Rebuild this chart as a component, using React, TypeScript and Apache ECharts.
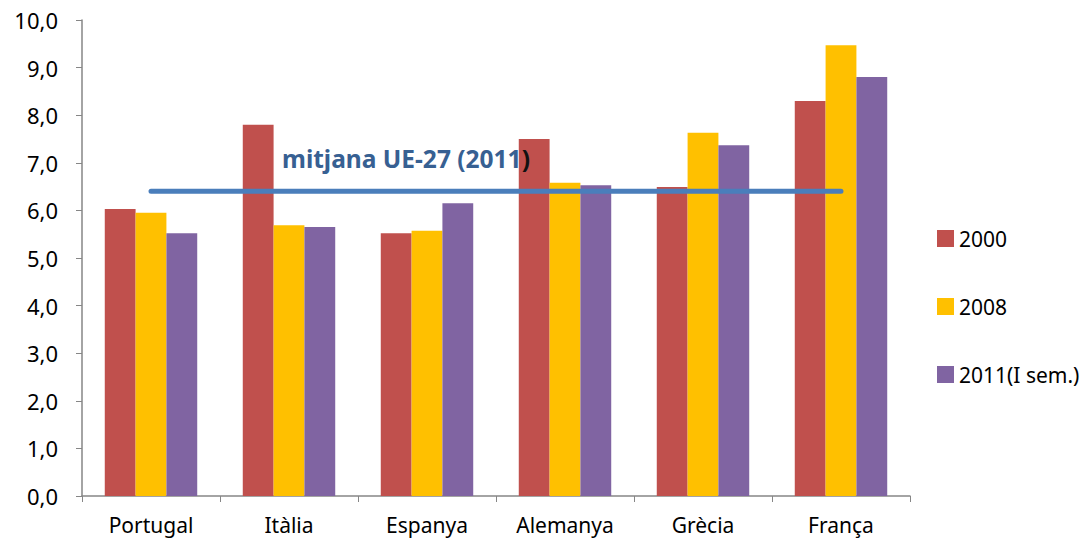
import React, { useEffect, useRef } from "react";
import * as echarts from "echarts";

const categories = ["Portugal", "Itàlia", "Espanya", "Alemanya", "Grècia", "França"];
const series2000 = [6.03, 7.8, 5.52, 7.5, 6.49, 8.3];
const series2008 = [5.95, 5.69, 5.57, 6.58, 7.63, 9.47];
const series2011 = [5.52, 5.65, 6.15, 6.53, 7.37, 8.8];
const euAverage = [6.4, 6.4, 6.4, 6.4, 6.4, 6.4];
const seriesNames = ["2000", "2008", "2011(I sem.)"];

const FONT = "'Noto Sans', 'Open Sans', sans-serif";

export default function App() {
  const ref = useRef<HTMLDivElement>(null);
  useEffect(() => {
    if (!ref.current) return;
    const chart = echarts.init(ref.current, undefined, { renderer: "svg" });
    chart.setOption({
      animation: false,
      backgroundColor: "#ffffff",
      textStyle: { fontFamily: FONT },
      grid: { left: 82, right: 179, top: 20, bottom: 48, containLabel: false },
      legend: {
        orient: "vertical",
        left: 932,
        top: 223,
        itemWidth: 17,
        itemHeight: 17,
        itemGap: 47,
        icon: "rect",
        data: seriesNames,
        textStyle: { fontSize: 21, color: "#000", fontFamily: FONT },
      },
      xAxis: {
        type: "category",
        data: categories,
        axisLine: { lineStyle: { color: "#868686", width: 1.5 } },
        axisTick: { show: true, length: 6, lineStyle: { color: "#868686" } },
        axisLabel: { fontSize: 21, color: "#000", margin: 18, fontFamily: FONT },
      },
      yAxis: {
        type: "value",
        min: 0,
        max: 10,
        interval: 1,
        splitLine: { show: false },
        axisLine: { show: true, lineStyle: { color: "#868686", width: 1.5 } },
        axisTick: { show: true, length: 6, lineStyle: { color: "#868686" } },
        axisLabel: {
          fontSize: 22,
          color: "#000",
          margin: 24,
          fontFamily: FONT,
          formatter: (v: number) => v.toFixed(1).replace(".", ","),
        },
      },
      series: [
        {
          name: seriesNames[0],
          type: "bar",
          data: series2000,
          barGap: "0%",
          barCategoryGap: "33%",
          itemStyle: { color: "#C0504D" },
        },
        {
          name: seriesNames[1],
          type: "bar",
          data: series2008,
          barGap: "0%",
          barCategoryGap: "33%",
          itemStyle: { color: "#FFC000" },
        },
        {
          name: seriesNames[2],
          type: "bar",
          data: series2011,
          barGap: "0%",
          barCategoryGap: "33%",
          itemStyle: { color: "#8064A2" },
        },
        {
          name: "mitjana UE-27 (2011)",
          type: "line",
          data: euAverage,
          symbol: "none",
          z: 5,
          lineStyle: { color: "#4A7EBB", width: 5, cap: "round" },
        },
      ],
      graphic: [
        {
          type: "text",
          left: 282,
          top: 146,
          z: 10,
          style: {
            text: "{a|mitjana UE-27 (2011}{b|)}",
            rich: {
              a: { fontSize: 24.5, fontWeight: "bold", fill: "#376092", fontFamily: FONT },
              b: { fontSize: 24.5, fontWeight: "bold", fill: "#111111", fontFamily: FONT },
            },
          },
        },
      ],
    });
    return () => chart.dispose();
  }, []);
  return (
    <div
      ref={ref}
      style={{ width: 1089, height: 544, marginTop: -8, marginLeft: -8 }}
    />
  );
}
